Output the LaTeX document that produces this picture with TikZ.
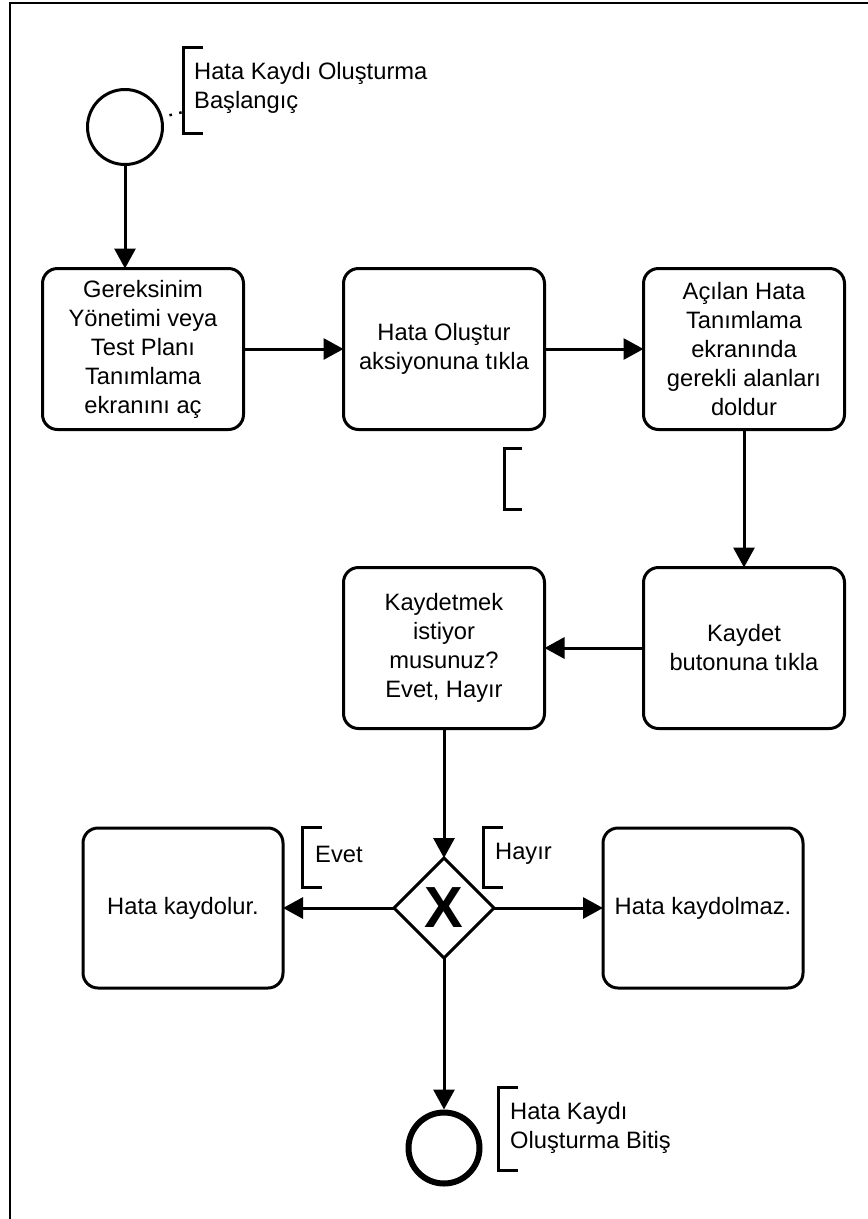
\documentclass[tikz,border=0pt]{standalone}
\usepackage{fontspec}
\setmainfont{Liberation Sans}
\usetikzlibrary{arrows.meta,shapes.geometric}
\begin{document}
\begin{tikzpicture}[x=1pt,y=-1pt,
  every node/.style={font=\fontsize{23.7}{29}\selectfont},
  task/.style={draw, line width=3pt, rounded corners=15pt, align=center,
    minimum width=201pt, minimum height=161pt, inner sep=0pt, outer sep=0pt},
  flow/.style={line width=3pt, -{Triangle[length=20pt,width=21pt]}},
  bracket/.style={line width=3pt},
  note/.style={align=left, anchor=west, inner sep=0pt},
  assoc/.style={line width=2.5pt, dash pattern=on 2.5pt off 7.5pt, dash phase=3pt}
]
\useasboundingbox (0,0) rectangle (868,1219);
% outer frame (left and top edges)
\draw[line width=2.5pt] (10,1219) -- (10,3) -- (868,3);

% start event and its annotation
\node[circle, draw, line width=3pt, minimum size=75pt, inner sep=0pt] (start) at (125,127) {};
\draw[bracket] (203,47) -- (183,47) -- (183,133) -- (203,133);
\coordinate (startnote) at (183,112);
\node[note] (starttext) at (194,88) {Hata Kaydı Oluşturma\\Başlangıç};
\draw[assoc] (start.15) -- (startnote);

% tasks
\node[task] (t1) at (143,349) {Gereksinim\\Yönetimi veya\\Test Planı\\Tanımlama\\ekranını aç};
\node[task] (t2) at (444,349) {Hata Oluştur\\aksiyonuna tıkla};
\node[task] (t3) at (744,349) {Açılan Hata\\Tanımlama\\ekranında\\gerekli alanları\\doldur};
\node[task] (t4) at (744,648) {Kaydet\\butonuna tıkla};
\node[task] (t5) at (444,648) {Kaydetmek\\istiyor\\musunuz?\\Evet, Hayır};
\node[task, minimum width=200pt, minimum height=160pt] (t6) at (183,908) {Hata kaydolur.};
\node[task, minimum width=200pt, minimum height=160pt] (t7) at (703,908) {Hata kaydolmaz.};

% empty annotation below the second task
\draw[bracket] (522,448) -- (504,448) -- (504,509) -- (522,509);

% exclusive gateway
\node[diamond, draw, line width=3pt, minimum width=100pt, minimum height=100pt,
  inner sep=0pt, outer sep=0pt] (gw) at (444,908) {};
\node[font=\fontsize{58}{58}\bfseries\selectfont, inner sep=0pt] (gwx) at (gw.center) {X};

% branch labels
\draw[bracket] (322,827) -- (302,827) -- (302,887) -- (322,887);
\node[note] (evet) at (315,854) {Evet};
\draw[bracket] (503,827) -- (483,827) -- (483,887) -- (503,887);
\node[note] (hayir) at (495,854) {Hayır};

% end event and its annotation
\node[circle, draw, line width=6pt, minimum size=71pt, inner sep=0pt] (end) at (444,1148) {};
\draw[bracket] (518,1087) -- (498,1087) -- (498,1170) -- (518,1170);
\node[note] (endtext) at (510,1128) {Hata Kaydı\\Oluşturma Bitiş};

% sequence flows
\draw[flow] (start.south) -- (start.south |- t1.north);
\draw[flow] (t1) -- (t2);
\draw[flow] (t2) -- (t3);
\draw[flow] (t3) -- (t4);
\draw[flow] (t4) -- (t5);
\draw[flow] (t5) -- (gw.north);
\draw[flow] (gw.west) -- (t6.east);
\draw[flow] (gw.east) -- (t7.west);
\draw[flow] (gw.south) -- (end.north);
\end{tikzpicture}
\end{document}
